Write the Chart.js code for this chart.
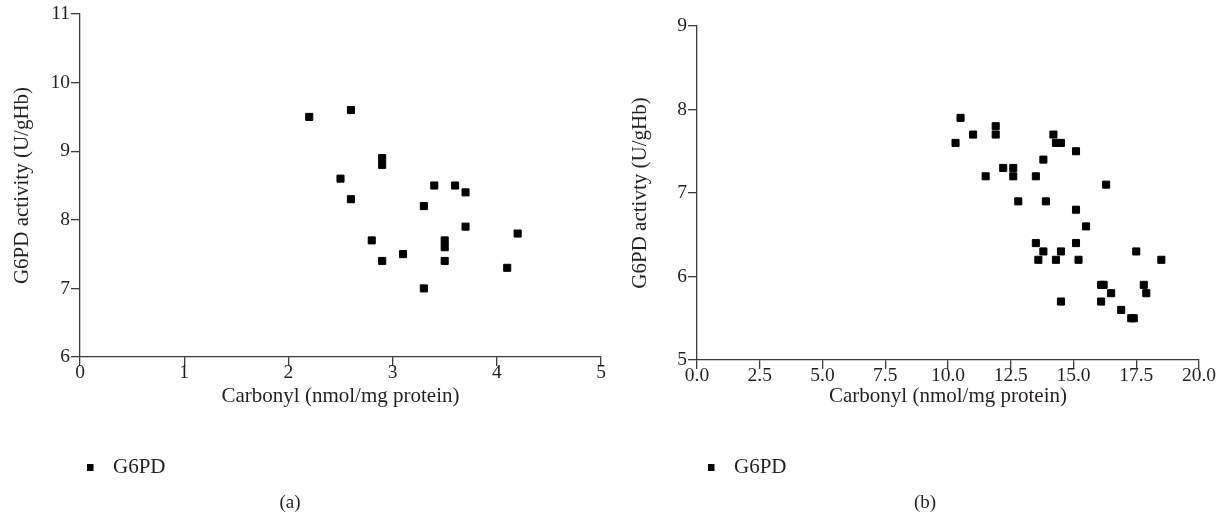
<!DOCTYPE html>
<html><head><meta charset="utf-8">
<script src="https://cdn.jsdelivr.net/npm/chart.js@4.4.1/dist/chart.umd.min.js"></script>
<style>
html,body{margin:0;padding:0;background:#fff;}
#wrap{position:relative;width:1227px;height:527px;overflow:hidden;background:#fff;}
.box{position:absolute;top:0;height:527px;}
.cap{position:absolute;font-family:'Liberation Serif',serif;font-size:19px;color:#231f20;transform:translate(-50%,-50%);white-space:nowrap;}
</style></head><body>
<div id="wrap">
<div class="box" style="left:0;width:610px"><canvas id="ca"></canvas></div>
<div class="box" style="left:610px;width:617px"><canvas id="cb"></canvas></div>
<div class="cap" style="left:290px;top:502px">(a)</div>
<div class="cap" style="left:925px;top:502px">(b)</div>
</div>
<script>
// ---- data ----
const seriesName = 'G6PD';
const xTitle = 'Carbonyl (nmol/mg protein)';
const yTitleA = 'G6PD activity (U/gHb)';
const yTitleB = 'G6PD activty (U/gHb)';

const carbonylA = [2.2, 2.6, 2.9, 2.9, 2.5, 2.6, 3.4, 3.6, 3.7, 3.3, 3.7, 4.2, 2.8, 3.5, 3.5, 3.1, 2.9, 3.5, 4.1, 3.3];
const g6pdA     = [9.5, 9.6, 8.9, 8.8, 8.6, 8.3, 8.5, 8.5, 8.4, 8.2, 7.9, 7.8, 7.7, 7.7, 7.6, 7.5, 7.4, 7.4, 7.3, 7.0];

const carbonylB = [10.3, 10.5, 11.0, 11.5, 11.9, 11.9, 12.2, 12.6, 12.6, 12.8, 13.5, 13.8, 13.9, 14.2, 14.3, 14.5, 15.1, 16.3, 15.1, 15.5,
                   13.5, 13.6, 13.8, 14.3, 14.5, 15.1, 15.2, 14.5, 16.1, 16.2, 16.1, 16.5, 16.9, 17.3, 17.4, 17.5, 17.8, 17.9, 18.5];
const g6pdB     = [7.6, 7.9, 7.7, 7.2, 7.8, 7.7, 7.3, 7.3, 7.2, 6.9, 7.2, 7.4, 6.9, 7.7, 7.6, 7.6, 7.5, 7.1, 6.8, 6.6,
                   6.4, 6.2, 6.3, 6.2, 6.3, 6.4, 6.2, 5.7, 5.9, 5.9, 5.7, 5.8, 5.6, 5.5, 5.5, 6.3, 5.9, 5.8, 6.2];

const xTicksA = [0, 1, 2, 3, 4, 5];
const yTicksA = [6, 7, 8, 9, 10, 11];
const xTicksB = [0, 2.5, 5, 7.5, 10, 12.5, 15, 17.5, 20];
const yTicksB = [5, 6, 7, 8, 9];

// ---- drawing ----
const FONT = "'Liberation Serif', 'Times New Roman', serif";
const INK = '#231f20';
const AXIS = '#3a3a3a';

function legendIcon() {
  const c = document.createElement('canvas');
  c.width = 16; c.height = 7;
  const g = c.getContext('2d');
  g.fillStyle = '#000';
  g.fillRect(0, 0, 7, 7);
  return c;
}

function makeChart(id, xs, ys, xt, yt, yTitle, geo) {
  const pts = xs.map((x, i) => ({x: x, y: ys[i]}));
  return new Chart(document.getElementById(id), {
    type: 'scatter',
    data: {datasets: [{
      label: seriesName,
      data: pts,
      pointStyle: 'rect',
      pointRadius: 5,
      pointHoverRadius: 5,
      backgroundColor: '#000',
      borderColor: '#000',
      borderWidth: 1
    }]},
    options: {
      responsive: true,
      maintainAspectRatio: false,
      animation: false,
      events: [],
      layout: {padding: {left: 0, top: geo.top, right: geo.right, bottom: geo.bottom}},
      plugins: {
        tooltip: {enabled: false},
        legend: {
          position: 'bottom',
          align: 'start',
          fullSize: false,
          labels: {
            usePointStyle: true,
            pointStyle: legendIcon(),
            pointStyleWidth: 16,
            padding: geo.legPad,
            color: INK,
            font: {family: FONT, size: 21}
          }
        }
      },
      scales: {
        x: {
          type: 'linear',
          min: xt[0], max: xt[xt.length - 1],
          afterBuildTicks: s => { s.ticks = xt.map(v => ({value: v})); },
          afterFit: s => { s.height = geo.xH; },
          border: {display: true, color: AXIS, width: 1.3},
          grid: {drawOnChartArea: false, drawTicks: true, tickLength: 9, color: AXIS, lineWidth: 1.3},
          ticks: {
            color: INK, padding: 0, maxRotation: 0, autoSkip: false,
            font: {family: FONT, size: 19.5, lineHeight: 0.7},
            callback: v => geo.fmt(v)
          },
          title: {display: true, text: xTitle, color: INK,
                  font: {family: FONT, size: 21}, padding: {top: 0, bottom: geo.xTitlePad}}
        },
        y: {
          type: 'linear',
          min: yt[0], max: yt[yt.length - 1],
          afterBuildTicks: s => { s.ticks = yt.map(v => ({value: v})); },
          afterFit: s => { s.width = geo.yW; },
          border: {display: true, color: AXIS, width: 1.3},
          grid: {drawOnChartArea: false, drawTicks: true, tickLength: 9, color: AXIS, lineWidth: 1.3},
          ticks: {color: INK, padding: 1, autoSkip: false, font: {family: FONT, size: 19.5}},
          title: {display: true, text: yTitle, color: INK,
                  font: {family: FONT, size: 21}, padding: {top: geo.yTitlePad, bottom: 0}}
        }
      }
    }
  });
}

makeChart('ca', carbonylA, g6pdA, xTicksA, yTicksA, yTitleA, {
  top: 14, right: 9, bottom: 39.5, legPad: 6.5, xH: 93, xTitlePad: 41.4,
  yW: 80, yTitlePad: 9.4, fmt: v => String(v)
});
makeChart('cb', carbonylB, g6pdB, xTicksB, yTicksB, yTitleB, {
  top: 26, right: 28, bottom: 39.5, legPad: 10.5, xH: 86, xTitlePad: 37.4,
  yW: 87, yTitlePad: 17.4, fmt: v => Number(v).toFixed(1)
});
</script>
</body></html>
